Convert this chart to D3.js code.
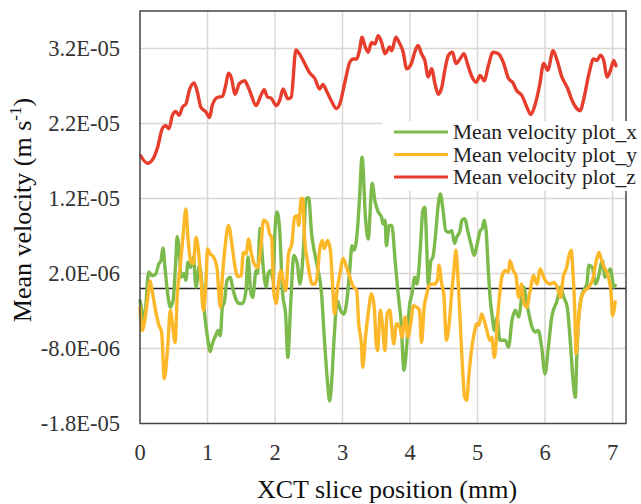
<!DOCTYPE html>
<html>
<head>
<meta charset="utf-8">
<script src="https://cdn.jsdelivr.net/npm/d3@7"></script>
<style>
  body { margin: 0; background: #fff; }
</style>
</head>
<body>
<svg id="chart" width="641" height="504"></svg>
<script>
// values are in units of 1e-6 m/s, positions in mm
var FONT = "'Liberation Serif'";

var xTicks = [0, 1, 2, 3, 4, 5, 6, 7];
var yTicks = [-18, -8, 2, 12, 22, 32];
var yTickLabels = ["-1.8E-05", "-8.0E-06", "2.0E-06", "1.2E-05", "2.2E-05", "3.2E-05"];
var seriesNames = ["Mean velocity plot_x", "Mean velocity plot_y", "Mean velocity plot_z"];

// plot_x (green)
var mmX = [0.00,0.02,0.05,0.08,0.13,0.18,0.23,0.28,0.31,0.34,0.37,0.41,0.45,0.49,0.53,0.55,0.58,0.61,0.65,0.68,
  0.71,0.75,0.79,0.83,0.88,0.95,1.00,1.04,1.07,1.12,1.16,1.19,1.22,1.25,1.29,1.34,1.37,1.42,1.47,1.52,
  1.57,1.60,1.64,1.67,1.72,1.74,1.78,1.82,1.87,1.90,1.94,1.97,2.00,2.03,2.07,2.11,2.16,2.19,2.23,2.28,
  2.33,2.37,2.42,2.46,2.50,2.54,2.59,2.63,2.69,2.73,2.78,2.81,2.84,2.88,2.92,2.97,3.02,3.07,3.11,3.14,
  3.17,3.22,3.25,3.29,3.34,3.38,3.44,3.48,3.53,3.58,3.60,3.63,3.65,3.69,3.73,3.78,3.82,3.87,3.91,3.95,
  3.99,4.03,4.07,4.10,4.13,4.16,4.19,4.22,4.25,4.27,4.31,4.34,4.38,4.42,4.45,4.49,4.53,4.58,4.62,4.66,
  4.69,4.74,4.77,4.81,4.86,4.91,4.95,4.99,5.04,5.07,5.10,5.13,5.16,5.19,5.22,5.25,5.29,5.33,5.41,5.46,
  5.51,5.56,5.61,5.68,5.75,5.81,5.85,5.90,5.95,6.00,6.05,6.10,6.18,6.23,6.28,6.33,6.37,6.42,6.45,6.47,
  6.52,6.57,6.62,6.65,6.70,6.75,6.79,6.85,6.89,6.97,7.02,7.04];
var velX = [-1.6,-2.5,-4.7,-2.9,2.2,1.7,1.9,3.3,3.7,5.4,2.8,-0.7,-2.5,-1.6,3.7,6.9,5.1,1.5,2.0,1.1,
  3.5,2.8,4.2,0.2,3.1,-2.9,-6.5,-8.4,-7.4,-6.3,-5.6,-6.3,-2.5,-1.8,1.1,1.5,0.2,-1.4,-2.0,-2.0,
  -0.3,4.2,-0.5,-1.2,2.4,2.0,8.0,3.3,0.2,2.0,2.4,1.1,7.7,10.2,7.7,-0.3,-3.8,-9.2,-2.5,4.4,
  3.3,0.6,5.1,12.0,12.1,7.5,4.6,2.8,-0.7,-6.5,-12.7,-15.0,-12.3,-6.0,-1.6,-2.9,-3.4,-1.2,2.8,5.7,
  5.1,7.7,11.7,17.5,9.5,6.6,14.0,11.7,10.2,9.5,8.6,9.1,5.7,8.4,8.4,3.7,-0.3,-4.7,-10.9,-7.8,
  -2.5,-0.7,1.5,0.6,2.4,6.4,10.4,10.8,5.1,0.6,3.7,4.2,7.3,11.3,12.6,10.4,7.7,7.5,7.7,6.0,
  6.8,7.7,9.1,9.3,7.5,5.7,4.4,5.7,7.7,8.0,9.1,7.5,2.4,-1.6,-3.8,-5.6,-3.8,-6.9,-6.9,-7.8,
  -4.3,-2.9,-3.8,0.2,-2.9,-5.2,-5.8,-5.6,-7.8,-11.4,-7.8,-3.8,-1.6,0.2,-1.2,-2.5,-6.5,-12.7,-14.5,-9.2,
  -2.0,-0.3,0.6,3.1,2.8,0.6,1.5,3.7,1.5,2.6,0.2,0.4];

// plot_y (orange)
var mmY = [0.00,0.03,0.07,0.11,0.15,0.18,0.23,0.28,0.32,0.36,0.41,0.45,0.48,0.52,0.55,0.60,0.64,0.68,0.71,0.75,
  0.79,0.83,0.86,0.90,0.94,0.98,1.00,1.04,1.09,1.14,1.19,1.22,1.26,1.31,1.36,1.40,1.45,1.50,1.53,1.57,
  1.61,1.64,1.69,1.74,1.79,1.83,1.88,1.92,1.95,1.98,2.02,2.05,2.09,2.13,2.16,2.20,2.25,2.29,2.33,2.35,
  2.39,2.41,2.44,2.48,2.51,2.55,2.59,2.63,2.66,2.70,2.73,2.78,2.82,2.86,2.88,2.92,2.97,3.01,3.06,3.11,
  3.15,3.21,3.24,3.28,3.30,3.34,3.38,3.43,3.47,3.50,3.52,3.56,3.59,3.63,3.66,3.70,3.73,3.76,3.80,3.85,
  3.88,3.93,3.97,4.01,4.05,4.10,4.14,4.17,4.21,4.25,4.28,4.33,4.37,4.41,4.43,4.47,4.50,4.54,4.58,4.62,
  4.65,4.68,4.71,4.74,4.77,4.81,4.84,4.87,4.91,4.95,4.99,5.02,5.06,5.10,5.14,5.18,5.21,5.25,5.31,5.36,
  5.41,5.46,5.48,5.53,5.57,5.61,5.65,5.68,5.73,5.78,5.83,5.88,5.93,5.98,6.03,6.08,6.13,6.18,6.23,6.27,
  6.32,6.35,6.39,6.41,6.44,6.46,6.50,6.54,6.59,6.65,6.71,6.76,6.80,6.84,6.88,6.94,6.98,7.00,7.04];
var velY = [-2.5,-5.6,-4.3,-1.6,1.0,-0.3,-2.9,-4.9,-5.8,-12.0,-7.8,-2.9,-4.7,-7.2,-1.2,3.3,7.3,10.6,6.8,3.7,
  3.3,6.8,5.5,1.5,-2.9,1.5,5.3,4.6,4.2,2.8,-2.5,1.5,5.5,8.4,6.0,3.3,1.6,1.7,4.8,4.6,
  6.6,5.1,3.3,2.8,5.5,9.1,8.8,7.3,6.8,-0.3,-2.0,0.6,2.4,0.6,-0.3,4.6,6.0,9.5,9.7,8.4,
  12.0,12.0,6.4,3.7,2.0,0.6,0.6,2.0,5.1,6.4,5.3,6.4,5.1,-0.7,-3.4,-0.3,2.4,4.0,2.8,1.5,
  0.4,-0.3,-4.7,-7.4,-10.5,-6.5,-3.4,-0.7,-2.5,-7.4,-8.3,-2.9,-4.7,-8.3,-3.4,-2.9,-5.2,-7.4,-4.7,-5.2,
  -6.5,-3.8,-6.5,-4.7,-2.3,-2.5,-2.9,-7.2,-2.5,-0.7,0.4,0.6,0.6,1.3,3.1,0.6,-0.7,-6.9,-4.7,-0.3,
  2.4,5.1,1.5,-3.8,-9.2,-14.5,-14.9,-11.8,-8.3,-6.0,-4.7,-4.9,-3.4,-4.3,-5.6,-6.9,-6.5,-9.2,-2.5,1.5,
  2.4,2.2,3.7,2.4,1.7,-1.2,0.6,-1.6,-2.5,-0.3,1.7,0.6,2.6,1.5,0.8,0.6,0.8,0.2,-1.2,1.5,
  2.8,4.2,5.1,2.8,-2.5,-8.7,-3.8,-1.2,-0.3,0.2,1.3,3.7,4.8,3.7,2.8,1.5,-0.7,-3.6,-1.8];

// plot_z (red)
var mmZ = [0.01,0.11,0.18,0.26,0.33,0.38,0.43,0.48,0.53,0.58,0.63,0.68,0.73,0.80,0.85,0.90,0.98,1.03,1.07,1.15,
  1.22,1.27,1.31,1.35,1.41,1.47,1.55,1.59,1.64,1.72,1.79,1.84,1.89,1.94,2.02,2.07,2.12,2.19,2.24,2.31,
  2.36,2.44,2.51,2.59,2.66,2.71,2.76,2.83,2.91,2.96,3.03,3.11,3.16,3.21,3.25,3.29,3.33,3.38,3.43,3.48,
  3.53,3.58,3.63,3.70,3.73,3.79,3.84,3.90,3.95,4.02,4.07,4.12,4.17,4.22,4.27,4.32,4.37,4.42,4.47,4.52,
  4.57,4.63,4.68,4.74,4.80,4.85,4.91,4.98,5.04,5.10,5.16,5.23,5.31,5.38,5.46,5.52,5.58,5.66,5.73,5.79,
  5.85,5.92,5.98,6.04,6.12,6.18,6.25,6.33,6.40,6.47,6.52,6.58,6.65,6.72,6.77,6.82,6.87,6.92,6.97,7.02,7.05];
var velZ = [17.7,16.7,17.1,18.8,21.3,21.7,21.3,23.1,23.6,23.1,24.2,24.6,26.4,27.4,26.2,24.2,23.5,22.8,24.4,25.5,
  25.6,27.1,28.7,28.2,25.9,27.3,27.7,27.1,26.0,24.4,25.7,26.5,25.5,25.4,24.4,25.1,26.6,25.3,25.5,31.8,
  31.3,30.0,28.8,28.0,26.6,27.2,26.4,25.1,24.0,24.6,27.3,30.2,30.6,30.6,31.7,33.5,32.4,31.5,32.8,32.6,
  33.7,32.8,31.3,32.2,31.7,33.5,32.8,31.5,29.3,30.0,31.5,32.4,31.3,30.4,28.2,29.3,27.3,25.9,26.8,29.3,
  31.1,31.5,30.0,30.6,31.3,30.0,28.4,27.5,28.4,27.7,29.7,31.5,31.3,30.2,28.0,27.5,26.4,25.7,24.2,23.2,
  24.4,27.1,30.0,29.1,31.7,30.4,28.2,26.8,25.1,24.0,23.7,25.5,28.6,30.6,30.4,31.1,30.4,28.2,29.1,30.4,29.7];

var colors = ["#7dba4c", "#fdb82a", "#e63d2c"];

var svg = d3.select("#chart");
var plotLeft = 140, plotRight = 626, plotTop = 11, plotBottom = 423.5;

var x = d3.scaleLinear().domain([0, 7.2]).range([plotLeft, plotRight]);
var y = d3.scaleLinear().domain([-18, 37]).range([plotBottom, plotTop]);

// gridlines
svg.append("g")
  .selectAll("line")
  .data(xTicks.slice(1))
  .enter().append("line")
  .attr("x1", function (d) { return x(d); })
  .attr("x2", function (d) { return x(d); })
  .attr("y1", plotTop).attr("y2", plotBottom)
  .style("stroke", "#dcd7d3").style("stroke-width", 1.5);

svg.append("g")
  .selectAll("line")
  .data(yTicks.slice(1))
  .enter().append("line")
  .attr("x1", plotLeft).attr("x2", plotRight)
  .attr("y1", function (d) { return y(d); })
  .attr("y2", function (d) { return y(d); })
  .style("stroke", "#dcd7d3").style("stroke-width", 1.5);

// zero line
svg.append("line")
  .attr("x1", plotLeft).attr("x2", plotRight)
  .attr("y1", y(0)).attr("y2", y(0))
  .style("stroke", "#222").style("stroke-width", 1.5);

// series, lightly smoothed like the original
var line = d3.line()
  .curve(d3.curveMonotoneX)
  .x(function (d) { return x(d[0]); })
  .y(function (d) { return y(d[1]); });

var series = [
  d3.zip(mmX, velX),
  d3.zip(mmY, velY),
  d3.zip(mmZ, velZ)
];

series.forEach(function (s, i) {
  svg.append("path")
    .datum(s)
    .attr("d", line)
    .style("fill", "none")
    .style("stroke", colors[i])
    .style("stroke-width", 3.4)
    .style("stroke-linejoin", "round")
    .style("stroke-linecap", "round");
});

// frame
svg.append("rect")
  .attr("x", plotLeft).attr("y", plotTop)
  .attr("width", plotRight - plotLeft).attr("height", plotBottom - plotTop)
  .style("fill", "none").style("stroke", "#444").style("stroke-width", 1.5);

// tick labels, placed from the scales (no transforms so the serif font sticks)
svg.append("g")
  .selectAll("text")
  .data(yTicks)
  .enter().append("text")
  .attr("x", plotLeft - 20)
  .attr("y", function (d) { return y(d) + 7.5; })
  .attr("text-anchor", "end")
  .style("font-family", FONT).style("font-size", "22.5px")
  .attr("fill", "#333")
  .text(function (d, i) { return yTickLabels[i]; });

svg.append("g")
  .selectAll("text")
  .data(xTicks)
  .enter().append("text")
  .attr("x", function (d) { return x(d); })
  .attr("y", 460)
  .attr("text-anchor", "middle")
  .style("font-family", FONT).style("font-size", "22.5px")
  .attr("fill", "#333")
  .text(function (d) { return d; });

// axis titles
svg.append("text")
  .attr("x", 387).attr("y", 498)
  .attr("text-anchor", "middle")
  .style("font-family", FONT)
  .style("font-size", "26px")
  .attr("fill", "#111")
  .text("XCT slice position (mm)");

// y title runs along an upward path instead of a rotate transform
svg.append("defs").append("path")
  .attr("id", "ytitlePath")
  .attr("d", "M31,400 L31,20");

var yt = svg.append("text")
  .style("font-family", FONT)
  .style("font-size", "26px")
  .attr("fill", "#111");
var tp = yt.append("textPath")
  .attr("href", "#ytitlePath")
  .attr("startOffset", "50%")
  .attr("text-anchor", "middle")
  .style("font-family", FONT);
tp.append("tspan").style("font-family", FONT).text("Mean velocity (m s");
tp.append("tspan").attr("dy", -10).style("font-family", FONT).style("font-size", "17px").text("-1");
tp.append("tspan").attr("dy", 10).style("font-family", FONT).text(")");

// legend
var lg = svg.append("g");
lg.append("rect")
  .attr("x", 382).attr("y", 121)
  .attr("width", 260).attr("height", 70)
  .style("fill", "#fff");
seriesNames.forEach(function (name, i) {
  var ly = 132 + i * 22.5;
  lg.append("line")
    .attr("x1", 394).attr("x2", 448)
    .attr("y1", ly).attr("y2", ly)
    .style("stroke", colors[i]).style("stroke-width", 3);
  lg.append("text")
    .attr("x", 453).attr("y", ly + 7)
    .style("font-family", FONT)
    .style("font-size", "21.5px")
    .attr("fill", "#222")
    .text(name);
});
</script>
</body>
</html>
